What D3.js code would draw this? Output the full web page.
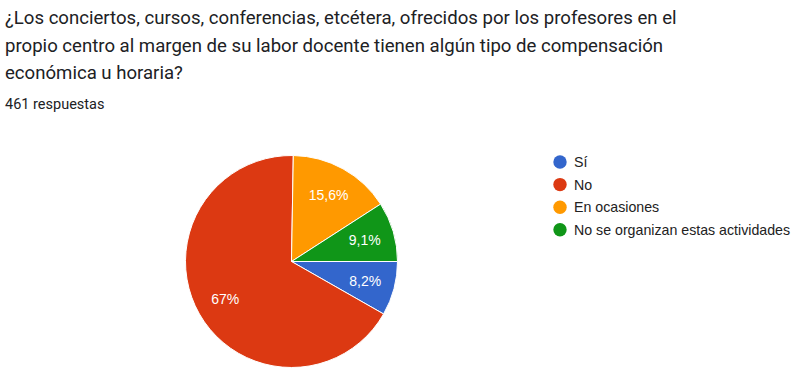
<!DOCTYPE html>
<html>
<head>
<meta charset="utf-8">
<script src="https://cdn.jsdelivr.net/npm/d3@7"></script>
<style>
  body { margin: 0; background: #fff; }
  svg { display: block; }
</style>
</head>
<body>
<svg id="chart" width="800" height="377"></svg>
<script>
// question text and answer counts (461 responses in total)
var titleLines = [
  "¿Los conciertos, cursos, conferencias, etcétera, ofrecidos por los profesores en el",
  "propio centro al margen de su labor docente tienen algún tipo de compensación",
  "económica u horaria?"
];
var totalLabel = "461 respuestas";
var categories = ["Sí", "No", "En ocasiones", "No se organizan estas actividades"];
var counts = [38, 309, 72, 42];
var colors = ["#3366cc", "#dc3912", "#ff9900", "#109618"];

var svg = d3.select("#chart");

// title
svg.append("g").selectAll("text")
  .data(titleLines)
  .enter().append("text")
    .attr("x", 5)
    .attr("y", function(d, i) { return 24 + i * 27.5; })
    .attr("font-family", "Roboto, sans-serif")
    .attr("font-size", 18.6)
    .attr("fill", "#202124")
    .text(function(d) { return d; });

svg.append("text")
  .attr("x", 5)
  .attr("y", 109)
  .attr("font-family", "Roboto, sans-serif")
  .attr("font-size", 14.5)
  .attr("fill", "#202124")
  .text(totalLabel);

// pie
var cx = 291.5, cy = 261.5, radius = 106;
var total = d3.sum(counts);

var pie = d3.pie()
  .sort(null)
  .startAngle(Math.PI / 2)
  .endAngle(Math.PI / 2 + 2 * Math.PI);

var arc = d3.arc().innerRadius(0).outerRadius(radius);
var labelArc = d3.arc().innerRadius(radius * 0.72).outerRadius(radius * 0.72);

var g = svg.append("g").attr("transform", "translate(" + cx + "," + cy + ")");
var arcs = pie(counts);

g.selectAll("path")
  .data(arcs)
  .enter().append("path")
    .attr("d", arc)
    .attr("fill", function(d, i) { return colors[i]; })
    .attr("stroke", "#fff")
    .attr("stroke-width", 1);

function pct(v) {
  var p = v / total * 100;
  var s = p.toFixed(1).replace(".", ",");
  if (s.slice(-2) == ",0") s = s.slice(0, -2);
  return s + "%";
}

g.selectAll("text")
  .data(arcs)
  .enter().append("text")
    .attr("transform", function(d) { return "translate(" + labelArc.centroid(d) + ")"; })
    .attr("text-anchor", "middle")
    .attr("dy", "0.35em")
    .attr("font-family", "Arial, 'Liberation Sans', sans-serif")
    .attr("font-size", 14)
    .attr("fill", "#fff")
    .text(function(d) { return pct(d.value); });

// legend
var legend = svg.append("g").attr("transform", "translate(560,162)");
var item = legend.selectAll("g")
  .data(categories)
  .enter().append("g")
    .attr("transform", function(d, i) { return "translate(0," + i * 22.6 + ")"; });

item.append("circle")
  .attr("r", 6.7)
  .attr("fill", function(d, i) { return colors[i]; });

item.append("text")
  .attr("x", 14)
  .attr("dy", "0.35em")
  .attr("font-family", "Arial, 'Liberation Sans', sans-serif")
  .attr("font-size", 14.2)
  .attr("fill", "#222")
  .text(function(d) { return d; });
</script>
</body>
</html>
